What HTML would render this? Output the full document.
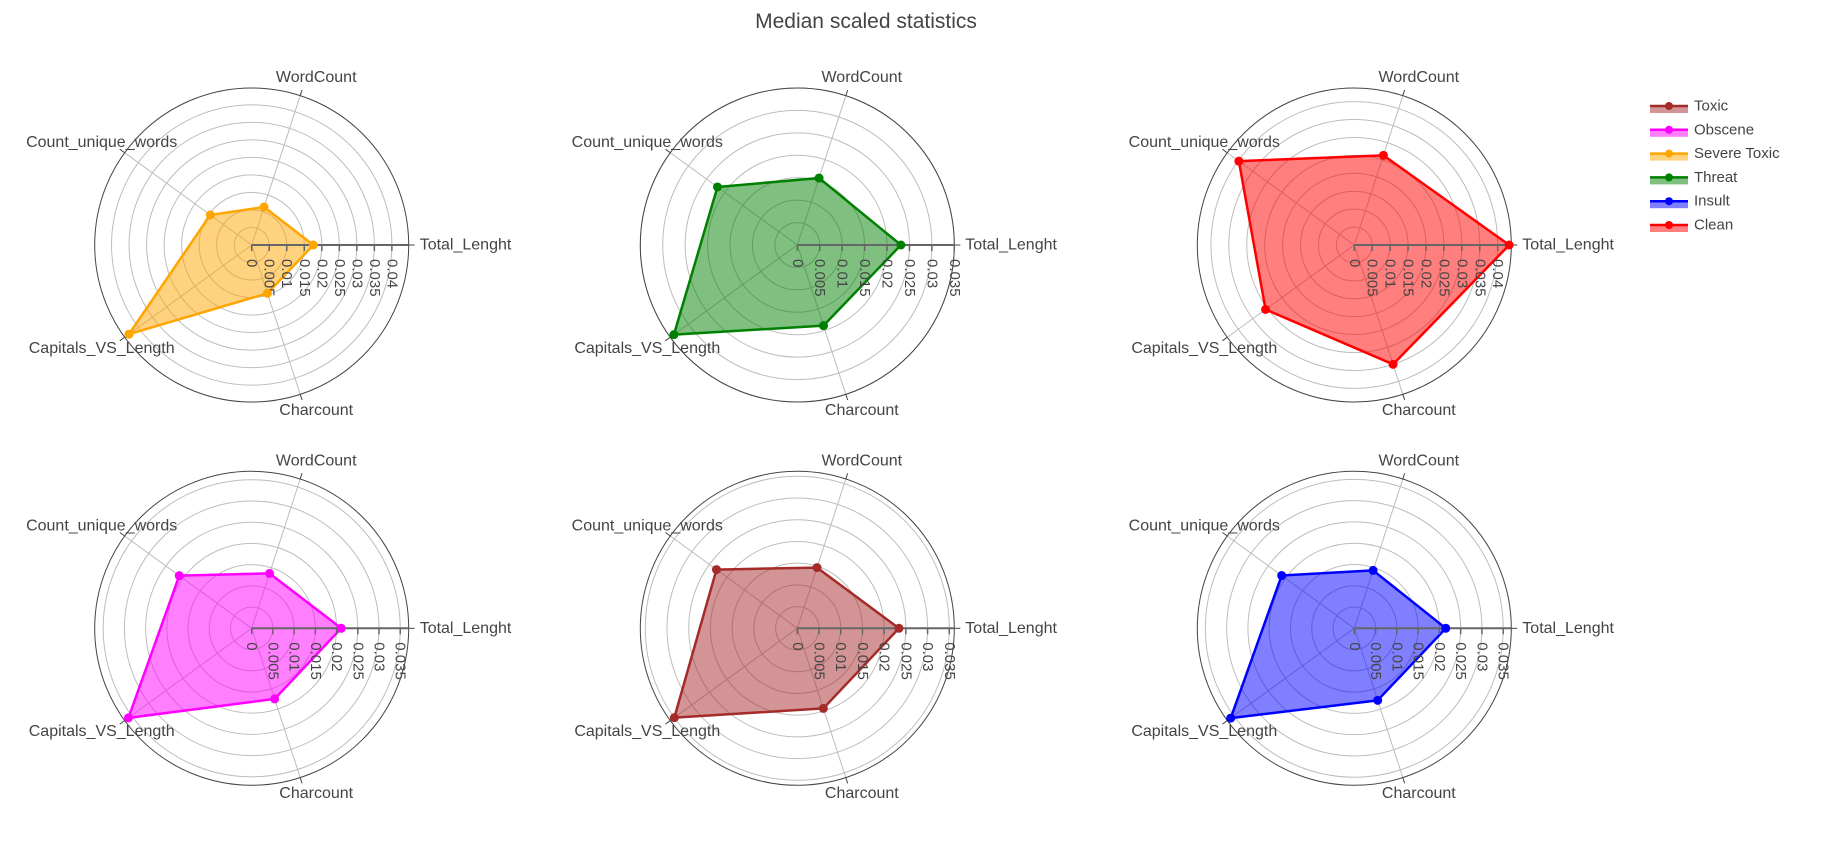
<!DOCTYPE html>
<html>
<head>
<meta charset="utf-8">
<style>
  html,body{margin:0;padding:0;background:#fff;}
  svg{display:block;font-family:"Liberation Sans",Arial,sans-serif;}
</style>
</head>
<body>
<svg id="chart" width="1822" height="844" viewBox="0 0 1822 844" xmlns="http://www.w3.org/2000/svg">
  <text x="866" y="28" text-anchor="middle" font-size="21" fill="#444">Median scaled statistics</text>
  <g id="plots"></g>
  <g id="legend"></g>
</svg>
<script>
// Category axes (counterclockwise from 0°)
const categories = ["Total_Lenght", "WordCount", "Count_unique_words", "Capitals_VS_Length", "Charcount"];
// Series values per class
const severeToxicValues = [0.0176, 0.0114, 0.0146, 0.0433, 0.0145];
const threatValues      = [0.0231, 0.0157, 0.0220, 0.0340, 0.0189];
const cleanValues       = [0.0432, 0.0263, 0.0398, 0.0306, 0.0350];
const obsceneValues     = [0.0211, 0.0136, 0.0211, 0.0359, 0.0175];
const toxicValues       = [0.0234, 0.0147, 0.0230, 0.0350, 0.0194];
const insultValues      = [0.0215, 0.0143, 0.0211, 0.0359, 0.0178];
// Radial axis maxima per subplot
const radialMax = [0.0448, 0.0350, 0.0438, 0.0370, 0.03615, 0.0369];
// Radial tick labels per subplot
const ticksA = ["0","0.005","0.01","0.015","0.02","0.025","0.03","0.035","0.04"];
const ticksB = ["0","0.005","0.01","0.015","0.02","0.025","0.03","0.035"];
const tickLabels = [ticksA, ticksB, ticksA, ticksB, ticksB, ticksB];
const seriesNames = ["Severe Toxic","Threat","Clean","Obscene","Toxic","Insult"];
const legendNames = ["Toxic","Obscene","Severe Toxic","Threat","Insult","Clean"];

const seriesValues = [severeToxicValues, threatValues, cleanValues, obsceneValues, toxicValues, insultValues];
const colors = {"Toxic":"#a52a2a","Obscene":"#ff00ff","Severe Toxic":"#ffa500","Threat":"#008000","Insult":"#0000ff","Clean":"#ff0000"};
const centers = [[251.7,245],[797.3,245],[1354.3,245],[251.7,628.3],[797.3,628.3],[1354.3,628.3]];
const R = 157;
const NS = "http://www.w3.org/2000/svg";
function mk(tag, attrs, parent){
  const e = document.createElementNS(NS, tag);
  for (const k in attrs) e.setAttribute(k, attrs[k]);
  parent.appendChild(e);
  return e;
}
const labelOffsets = [[11,0,"start"],[16,-18,"middle"],[-23,-10,"middle"],[-23,11,"middle"],[16,16,"middle"]];
const plots = document.getElementById('plots');

seriesNames.forEach((name, p) => {
  const [cx, cy] = centers[p];
  const max = radialMax[p];
  const rScale = v => v / max * R;
  const angle = i => i * 72 * Math.PI / 180;
  const px = (v, i) => [cx + rScale(v) * Math.cos(angle(i)), cy - rScale(v) * Math.sin(angle(i))];
  const g = mk('g', {}, plots);
  
  
  tickLabels[p].forEach((t) => {
    const v = parseFloat(t);
    if (v <= 0) return;
    const c = mk('circle', {cx:cx, cy:cy, r:rScale(v), fill:'none', stroke:'#bdbdbd', 'stroke-width':1}, g);
    
    
  });
  categories.forEach((cat, i) => {
    const [x1, y1] = px(max, i);
    const s = mk('line', {x1:cx, y1:cy, x2:x1, y2:y1, stroke:'#bdbdbd', 'stroke-width':1}, g);
    
    
    const a = angle(i);
    const tk = mk('line', {x1:x1, y1:y1, x2:cx+(R+6)*Math.cos(a), y2:cy-(R+6)*Math.sin(a), stroke:'#444', 'stroke-width':1}, g);
    
    
    const off = labelOffsets[i];
    const lab = mk('text', {x:x1+off[0], y:y1+off[1], 'text-anchor':off[2], 'dominant-baseline':'central', 'font-size':16, fill:'#444'}, g);
    lab.textContent = cat;
    
    
  });
  const oc = mk('circle', {cx:cx, cy:cy, r:R, fill:'none', stroke:'#444', 'stroke-width':1}, g);
  
  
  const vals = seriesValues[p];
  const pts = vals.map((v, i) => px(v, i).join(',')).join(' ');
  const col = colors[name];
  const poly = mk('polygon', {points:pts, fill:col, 'fill-opacity':0.5, stroke:col, 'stroke-width':2.5, 'stroke-linejoin':'round'}, g);
  
  
  const ax = mk('line', {x1:cx, y1:cy, x2:cx+R, y2:cy, stroke:'#666', 'stroke-width':2}, g);
  
  
  tickLabels[p].forEach((t) => {
    const x = cx + rScale(parseFloat(t));
    const tl = mk('line', {x1:x, y1:cy, x2:x, y2:cy+6, stroke:'#666', 'stroke-width':1.5}, g);
    
    
    const tx = mk('text', {x:0, y:0, transform:'translate('+x+','+(cy+14)+') rotate(90)', 'dominant-baseline':'central', 'font-size':15, fill:'#444'}, g);
    tx.textContent = t;
    
    
  });
  vals.forEach((v, i) => {
    const [x, y] = px(v, i);
    const m = mk('circle', {cx:x, cy:y, r:4.5, fill:col}, g);
    
    
  });
});

const legend = document.getElementById('legend');
legendNames.forEach((n, k) => {
  const y = 106 + k * 23.8;
  const col = colors[n];
  const g = mk('g', {}, legend);
  
  
  mk('rect', {x:1650, y:y, width:38, height:7, fill:col, 'fill-opacity':0.5}, g);
  mk('line', {x1:1650, y1:y, x2:1688, y2:y, stroke:col, 'stroke-width':2.5}, g);
  mk('circle', {cx:1669, cy:y, r:4, fill:col}, g);
  const t = mk('text', {x:1694, y:y, 'dominant-baseline':'central', 'font-size':15, fill:'#444'}, g);
  t.textContent = n;
});
</script>
</body>
</html>
